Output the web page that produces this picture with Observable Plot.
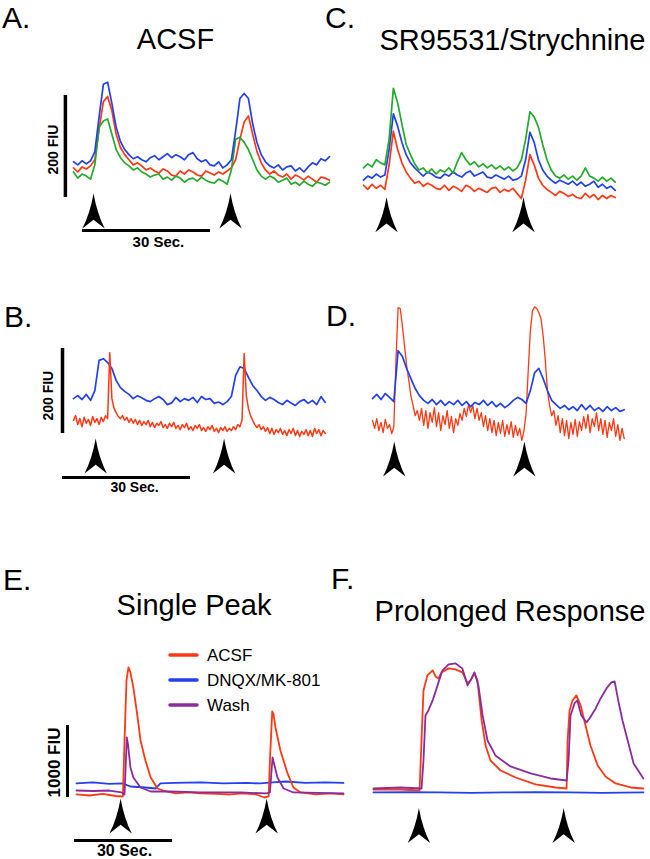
<!DOCTYPE html>
<html><head><meta charset="utf-8">
<script src="https://cdn.jsdelivr.net/npm/d3@7"></script>
<script src="https://cdn.jsdelivr.net/npm/@observablehq/plot@0.6"></script>
<style>
html,body{margin:0;padding:0;background:#fff;}
#fig{position:relative;width:650px;height:859px;overflow:hidden;font-family:"Liberation Sans",Arial,sans-serif;}
</style></head><body><div id="fig"></div>
<script>
// ---------- data (FIU values; uniform sampling for A-D, [seconds, FIU] pairs for E-F) ----------
const aBlue = [70,64,72,66,72,90,158,222,226,184,138,110,94,84,76,80,74,70,78,82,74,80,86,78,84,80,74,84,88,76,70,74,64,62,70,58,64,74,130,194,204,194,144,108,84,70,62,58,64,54,60,62,52,58,50,60,68,64,76,72,80];
const aRed = [58,50,60,56,62,74,134,188,198,170,124,98,84,74,64,68,62,54,58,52,48,56,52,44,42,52,46,54,50,44,42,52,48,44,50,46,52,58,74,114,148,160,124,90,68,54,46,52,44,40,46,36,44,40,34,42,36,30,40,38,34];
const aGreen = [50,38,46,42,36,64,138,150,154,124,94,78,68,62,54,58,50,46,40,44,46,36,40,34,42,38,30,36,38,32,40,34,30,28,36,32,26,54,114,118,108,94,74,54,42,36,42,38,30,34,38,26,30,24,32,26,22,30,28,24,30];
const cGreen = [58,66,60,74,68,64,114,214,186,144,104,84,66,54,58,48,56,46,54,50,58,48,70,88,74,64,70,60,66,58,64,56,62,54,60,52,58,74,114,168,158,138,104,74,54,42,38,44,36,42,34,42,58,42,38,32,40,32,38,30];
const cBlue = [34,42,38,46,40,44,94,164,140,108,84,68,58,50,42,50,46,40,38,46,42,50,44,40,48,52,42,46,50,40,38,44,40,36,42,34,36,42,74,128,108,74,54,42,34,28,34,30,26,32,24,30,22,26,32,20,26,18,22,14];
const cRed = [24,16,26,18,24,16,64,130,94,68,50,38,28,32,22,28,24,18,16,24,14,22,18,12,24,20,12,18,14,10,18,20,10,16,12,18,8,-2,34,84,64,38,24,16,10,4,12,8,2,6,0,-2,8,0,6,-4,4,-2,4,0];
const bBlue = [82,89,80,92,78,101,172,176,167,153,125,108,99,92,82,89,84,78,75,82,87,80,68,72,85,75,82,78,85,73,87,80,82,71,74,68,75,87,136,157,153,132,113,101,87,78,85,80,73,68,78,72,66,75,80,71,78,68,87,73];
const bRed = [31,42,21,35,16,38,24,33,19,40,26,35,21,38,28,42,35,190,82,59,49,40,35,42,31,38,26,35,24,33,21,31,19,28,21,31,16,26,14,24,19,28,14,21,12,24,16,26,12,19,9,21,14,24,9,16,7,19,12,21,7,14,5,16,9,19,5,12,2,14,7,16,5,12,7,16,9,21,16,31,188,89,59,42,31,21,14,21,9,16,5,14,0,12,-2,9,2,12,-2,7,-5,9,0,12,-5,7,-7,5,-2,9,-5,7,-7,12,0,9,-5,7,0];
const dBlue = [82,92,80,94,85,75,195,181,153,129,106,89,78,71,80,68,78,66,75,68,78,66,75,63,73,68,78,66,75,63,71,61,68,78,85,80,71,101,143,153,129,101,78,68,59,66,56,63,54,68,56,66,54,61,52,63,54,61,52,56];
const dRed = [31,12,35,7,26,2,33,12,21,0,16,172,296,294,254,207,160,125,89,66,42,54,31,59,19,54,12,49,26,61,16,49,7,42,21,54,12,40,2,35,19,47,31,59,40,68,49,66,35,59,31,49,16,42,7,35,2,31,-5,26,0,31,-7,21,-2,28,-9,19,-5,12,-16,7,47,148,242,289,298,294,284,270,230,172,101,66,42,54,19,42,2,35,-5,31,-12,26,-2,33,-7,28,7,40,12,45,2,35,16,49,7,35,-2,31,-9,26,7,35,-7,21,-16,12,-12];
const eRed = [[0,42],[4,28],[8,49],[12,21],[14.2,14],[14.7,790],[15.3,1626],[15.9,1807],[16.5,1738],[17.4,1529],[18.7,1112],[19.6,792],[21.1,514],[22.7,278],[24.8,125],[26.6,97],[30.3,56],[34,70],[38,56],[43,49],[47,42],[51,56],[55,42],[57.5,0],[58.8,14],[59.2,514],[59.9,1195],[60.3,1154],[60.9,973],[62.4,653],[64.6,334],[66.4,139],[68.6,70],[73.2,42],[78,56],[81.7,42]];
const eBlue = [[0,195],[5,209],[10,188],[14.1,195],[16.5,153],[21.1,139],[24.2,125],[25.7,195],[30,202],[38,209],[45,195],[52,202],[56.3,195],[60,209],[64,222],[70,202],[76,209],[81.7,202]];
const ePurple = [[0,97],[5,90],[10,97],[13.8,70],[14.7,42],[15,375],[15.4,834],[15.8,723],[16.5,417],[17.4,278],[19.6,139],[22.7,83],[28.8,83],[38,70],[50.2,70],[58.2,56],[59.2,70],[59.7,375],[60,556],[60.6,445],[61.5,278],[63.4,125],[66.4,70],[81.7,56]];
const fRed = [[0,111],[8.3,111],[14.1,97],[14.7,792],[15.3,1487],[16.5,1696],[18.1,1765],[19,1682],[19.9,1654],[20.8,1738],[23,1793],[25.1,1779],[27.2,1738],[28.8,1585],[29.7,1626],[30.9,1724],[31.8,1626],[33.1,1070],[34.3,723],[35.8,514],[38.9,375],[43.5,278],[49.6,181],[55.7,139],[59.1,125],[59.4,792],[60,1209],[60.9,1348],[62.1,1418],[63.4,1279],[64.9,1001],[66.4,723],[68.6,445],[71,292],[74.1,195],[78.7,139],[82.6,125]];
const fPurple = [[0,125],[8.3,139],[14.7,125],[15.3,514],[15.9,1140],[16.8,1209],[18.1,1348],[19.6,1557],[21.1,1765],[23,1849],[25.1,1863],[27.2,1793],[28.8,1557],[30,1654],[30.9,1738],[32.1,1557],[33.4,1140],[34.9,792],[37.3,584],[41.9,431],[48.1,334],[54.2,264],[59.1,236],[59.7,514],[60.3,1140],[61.5,1307],[62.4,1348],[63.6,1140],[65.2,1043],[66.1,1098],[68,1237],[69.5,1376],[71.3,1515],[72.8,1598],[73.8,1612],[74.9,1348],[76.2,1070],[77.8,792],[79.6,473],[82.6,264]];
const fBlue = [[0,70],[10,76],[20,70],[30,63],[40,70],[50,76],[60,70],[70,63],[82.6,70]];
// stimulus times (s)
const stimA = [4.7, 36.8];
const stimC = [5.4, 37.5];
const stimB = [5.2, 35.3];
const stimD = [5.1, 35.6];
const stimE = [13.5, 58.2];
const stimF = [13.9, 58.2];
// labels
const panelLetters = ["A.", "B.", "C.", "D.", "E.", "F."];
const panelTitles = ["ACSF", "SR95531/Strychnine", "Single Peak", "Prolonged Response"];
const legendLabels = ["ACSF", "DNQX/MK-801", "Wash"];
const scaleLabels = ["200 FIU", "30 Sec.", "1000 FIU"];

// ---------- helpers ----------
const RED = "#ff3814", BLUE = "#2240ee", GREEN = "#22aa2a", PURPLE = "#8a2c9e";
const uni = (vals, step) => vals.map((v, i) => ({t: i * step, v}));
const pairs = (arr) => arr.map(([t, v]) => ({t, v}));
const arrowSym = {
  draw(ctx, size) {
    const r = Math.sqrt(size / Math.PI);
    const w = 0.64 * r, n = 0.5 * r;
    ctx.moveTo(0, -r);
    ctx.quadraticCurveTo(0.2 * r, 0.15 * r, w, r);
    ctx.lineTo(0, n);
    ctx.lineTo(-w, r);
    ctx.quadraticCurveTo(-0.2 * r, 0.15 * r, 0, -r);
    ctx.closePath();
  }
};
const fig = document.getElementById("fig");
function panel({left, top, width, height, xd, xr, yd, yr, marks}) {
  const svg = Plot.plot({
    width, height, margin: 0,
    x: {domain: xd, range: xr.map(v => v - left), axis: null},
    y: {domain: yd, range: yr.map(v => v - top), axis: null},
    style: {background: "transparent", overflow: "visible"},
    marks
  });
  svg.style.position = "absolute";
  svg.style.left = left + "px";
  svg.style.top = top + "px";
  svg.style.maxWidth = "none";
  fig.appendChild(svg);
}
const trace = (data, color, sw = 1.7) => Plot.line(data, {x: "t", y: "v", stroke: color, strokeWidth: sw, strokeLinejoin: "round", curve: "linear"});
const arrows = (stims, y) => Plot.dot(stims, {x: d => d, y, symbol: arrowSym, r: 17.5, fill: "black", stroke: "none"});
const lbl = (text, x, y, size, rotate = 0) => Plot.text([text], {x, y, text: d => d, rotate, fontSize: size, fontWeight: "bold", fill: "black", fontFamily: "Liberation Sans, Arial, sans-serif", textAnchor: "middle", lineAnchor: "middle"});

// ---------- A ----------
panel({left: 30, top: 60, width: 310, height: 200, xd: [0, 60], xr: [73, 329], yd: [0, 200], yr: [197, 95], marks: [
  trace(uni(aRed, 1), RED), trace(uni(aGreen, 1), GREEN), trace(uni(aBlue, 1), BLUE),
  Plot.ruleX([-1.9], {y1: 0, y2: 200, stroke: "black", strokeWidth: 3.5}),
  Plot.ruleY([-64.7], {x1: 2.1, x2: 32.1, stroke: "black", strokeWidth: 3}),
  lbl(scaleLabels[0], -4.6, 94, 14, -90),
  lbl(scaleLabels[1], 19.9, -87, 15),
  arrows(stimA, -26.5)
]});
// ---------- C ----------
panel({left: 340, top: 60, width: 300, height: 200, xd: [0, 60], xr: [363, 619], yd: [0, 200], yr: [197, 95], marks: [
  trace(uni(cRed, 1), RED), trace(uni(cBlue, 1), BLUE), trace(uni(cGreen, 1), GREEN),
  arrows(stimC, -34)
]});
// ---------- B ----------
panel({left: 30, top: 330, width: 310, height: 170, xd: [0, 60], xr: [73, 329], yd: [0, 200], yr: [433, 348], marks: [
  trace(uni(bBlue, 1), BLUE), trace(uni(bRed, 0.5), RED, 1.5),
  Plot.ruleX([-2.58], {y1: 0, y2: 200, stroke: "black", strokeWidth: 3.5}),
  Plot.ruleY([-103.5], {x1: -2.58, x2: 27.42, stroke: "black", strokeWidth: 3}),
  lbl(scaleLabels[0], -5.9, 89, 14, -90),
  lbl(scaleLabels[1], 14.3, -128, 14),
  arrows(stimB, -53)
]});
// ---------- D ----------
panel({left: 340, top: 330, width: 300, height: 170, xd: [0, 60], xr: [372, 628], yd: [0, 200], yr: [433, 348], marks: [
  trace(uni(dRed, 0.5), RED, 1.3), trace(uni(dBlue, 1), BLUE),
  arrows(stimD, -60)
]});
// ---------- E ----------
panel({left: 30, top: 630, width: 310, height: 229, xd: [0, 80], xr: [76, 337.4], yd: [0, 1000], yr: [797, 725], marks: [
  trace(pairs(eBlue), BLUE, 1.8), trace(pairs(eRed), RED, 1.8), trace(pairs(ePurple), PURPLE, 1.8),
  Plot.ruleX([-2.75], {y1: 0, y2: 1000, stroke: "black", strokeWidth: 3}),
  Plot.ruleY([-597], {x1: -0.6, x2: 29.4, stroke: "black", strokeWidth: 3}),
  lbl(scaleLabels[2], -6.7, 486, 17, -90),
  lbl(scaleLabels[1], 14.7, -736, 16),
  arrows(stimE, -257)
]});
// ---------- F ----------
panel({left: 345, top: 630, width: 305, height: 229, xd: [0, 80], xr: [373, 634.4], yd: [0, 1000], yr: [797, 725], marks: [
  trace(pairs(fRed), RED, 1.8), trace(pairs(fPurple), PURPLE, 1.8), trace(pairs(fBlue), BLUE, 1.8),
  arrows(stimF, -389)
]});

// ---------- panel letters, titles, legend ----------
const ov = d3.select(fig).append("svg").attr("width", 650).attr("height", 859)
  .style("position", "absolute").style("left", 0).style("top", 0).style("pointer-events", "none")
  .style("font-family", "'Liberation Sans', Arial, sans-serif");
const letterPos = [[2, 28], [4, 327], [325, 28], [326, 326], [3, 590], [331, 589]];
panelLetters.forEach((t, i) => ov.append("text").attr("x", letterPos[i][0]).attr("y", letterPos[i][1]).attr("font-size", 30).text(t));
const titlePos = [[175.5, 49], [512.5, 50], [194, 615], [510, 621]];
panelTitles.forEach((t, i) => ov.append("text").attr("x", titlePos[i][0]).attr("y", titlePos[i][1]).attr("font-size", 29).attr("text-anchor", "middle").text(t));
const legColors = [RED, BLUE, PURPLE];
const legY = [655, 680, 705];
legendLabels.forEach((t, i) => {
  ov.append("line").attr("x1", 170).attr("x2", 197).attr("y1", legY[i]).attr("y2", legY[i]).attr("stroke", legColors[i]).attr("stroke-width", 3.5).attr("stroke-linecap", "round");
  ov.append("text").attr("x", 207).attr("y", legY[i] + 6).attr("font-size", 17).text(t);
});
</script></body></html>
